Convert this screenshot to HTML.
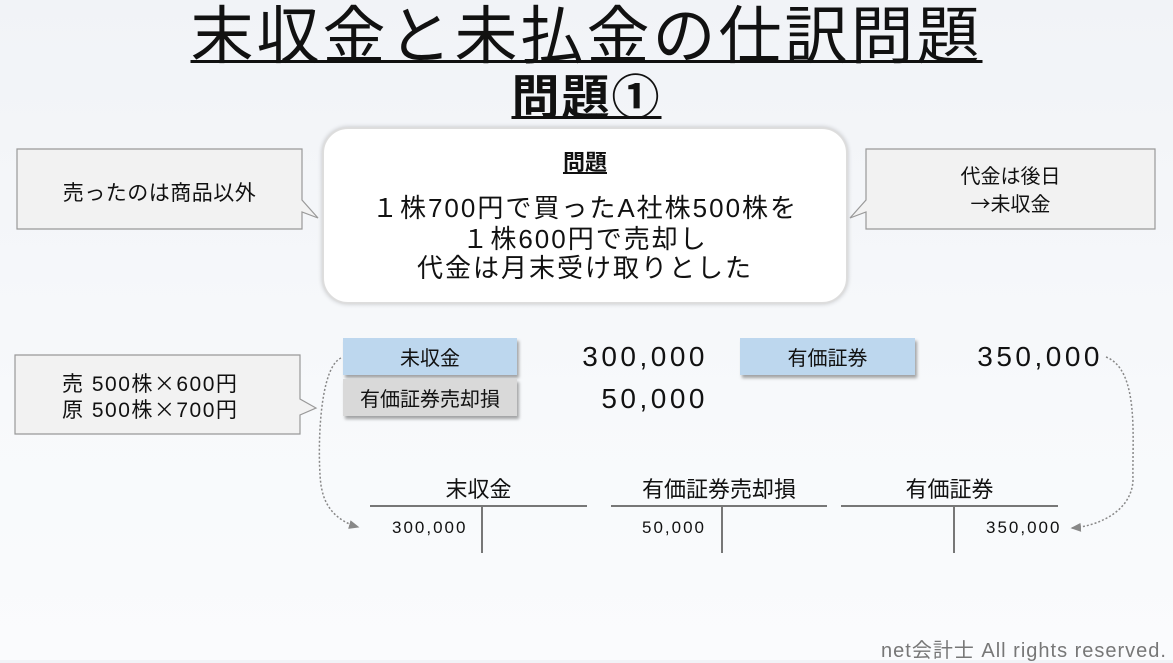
<!DOCTYPE html>
<html><head><meta charset="utf-8"><style>
*{margin:0;padding:0;box-sizing:border-box}
body{width:1173px;height:660px;overflow:hidden;position:relative;background:linear-gradient(180deg,#f1f3f7 0%,#f7f9fb 60%,#fafbfd 100%);font-family:"Liberation Sans","Noto Sans CJK JP",sans-serif;color:#111}
.a{position:absolute;white-space:nowrap}
.j{font-family:"Noto Sans CJK JP",sans-serif}
.box{position:absolute;display:flex;align-items:center;justify-content:center;font-size:20px;box-shadow:2px 3px 3px rgba(0,0,0,.35)}
.num{position:absolute;font-size:28px;text-align:right;line-height:1;letter-spacing:3.5px}
.hl{position:absolute;height:2px;background:#777}
.vl{position:absolute;width:2px;background:#777}
.tt{position:absolute;font-size:22px;text-align:center;line-height:1}
.sm{position:absolute;font-size:17px;line-height:1;letter-spacing:2px}
</style></head><body>
<div class="a" style="left:0;width:1173px;top:2px;text-align:center;font-size:63px;line-height:70px;letter-spacing:3px;text-decoration:underline;text-decoration-thickness:3px">末収金と未払金の仕訳問題</div>
<div class="a" style="left:0;width:1173px;top:72px;text-align:center;font-size:48px;line-height:54px;text-decoration:underline;text-decoration-thickness:3px;font-weight:bold;letter-spacing:2px">問題①</div>

<div class="a" style="left:322px;top:127px;width:526px;height:177px;border-radius:26px;background:#fff;border:2px solid #ddd;box-shadow:0 0 5px rgba(0,0,0,.2)"></div>
<div class="a" style="left:322px;width:526px;top:145px;text-align:center;font-size:22px;font-weight:bold;text-decoration:underline">問題</div>
<div class="a" style="left:322px;width:526px;top:192px;text-align:center;font-size:26px;line-height:29px;letter-spacing:2px"><span class="j">１</span>株700円で買ったA社株500株を<br><span class="j">１</span>株600円で売却し<br>代金は月末受け取りとした</div>

<svg class="a" style="left:0;top:0" width="1173" height="660">
<defs><marker id="m" markerWidth="8" markerHeight="8" refX="6" refY="4" orient="auto"><path d="M0,1 L7,4 L0,7z" fill="#888"/></marker></defs>
<path d="M17,149 H302 V200 L318,218 L302,212 V229 H17Z" fill="#f2f2f2" stroke="#999" stroke-width="1.2"/>
<path d="M15,355 H300 V399 L316,408 L300,415 V434 H15Z" fill="#f2f2f2" stroke="#999" stroke-width="1.2"/>
<path d="M866,149 H1155 V229 H866 V212 L850,218 L866,200Z" fill="#f2f2f2" stroke="#999" stroke-width="1.2"/>
<path d="M341,358 C315,370 318,480 322,490 C326,510 340,522 358,527" fill="none" stroke="#888" stroke-width="1.5" stroke-dasharray="2,2" marker-end="url(#m)"/>
<path d="M1106,357 C1140,370 1132,440 1133,480 C1132,510 1100,526 1072,528" fill="none" stroke="#888" stroke-width="1.5" stroke-dasharray="2,2" marker-end="url(#m)"/>
</svg>
<div class="a" style="left:17px;width:285px;top:177px;text-align:center;font-size:21px;letter-spacing:0.5px">売ったのは商品以外</div>
<div class="a" style="left:62px;top:371px;font-size:21px;line-height:25px;letter-spacing:1.5px">売 500株<span class="j">×</span>600円<br>原 500株<span class="j">×</span>700円</div>
<div class="a" style="left:866px;width:289px;top:165px;text-align:center;font-size:20px;line-height:25px">代金は後日<br><span class="j">→</span>未収金</div>

<div class="box" style="left:343px;top:338px;width:174px;height:37px;background:#bdd7ee">未収金</div>
<div class="box" style="left:343px;top:379px;width:174px;height:37px;background:#d9d9d9">有価証券売却損</div>
<div class="box" style="left:740px;top:338px;width:175px;height:37px;background:#bdd7ee">有価証券</div>
<div class="num" style="left:505px;width:203px;top:343px">300,000</div>
<div class="num" style="left:505px;width:203px;top:385px">50,000</div>
<div class="num" style="left:900px;width:203px;top:343px">350,000</div>

<div class="tt" style="left:370px;width:217px;top:479px">末収金</div>
<div class="tt" style="left:611px;width:216px;top:479px">有価証券売却損</div>
<div class="tt" style="left:841px;width:217px;top:479px">有価証券</div>
<div class="hl" style="left:370px;top:505px;width:217px"></div>
<div class="hl" style="left:611px;top:505px;width:216px"></div>
<div class="hl" style="left:841px;top:505px;width:217px"></div>
<div class="vl" style="left:481px;top:505px;height:48px"></div>
<div class="vl" style="left:721px;top:505px;height:48px"></div>
<div class="vl" style="left:953px;top:505px;height:48px"></div>
<div class="sm" style="left:392px;top:519px">300,000</div>
<div class="sm" style="left:642px;top:519px">50,000</div>
<div class="sm" style="left:986px;top:519px">350,000</div>

<div class="a" style="right:6px;top:634px;font-size:20px;color:#777;letter-spacing:1px">net会計士 All rights reserved.</div>
</body></html>
